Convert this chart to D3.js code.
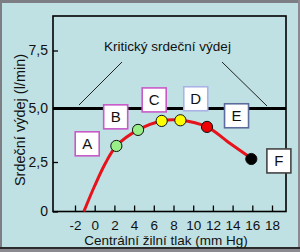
<!DOCTYPE html>
<html><head><meta charset="utf-8">
<script src="https://cdn.jsdelivr.net/npm/d3@7"></script>
<style>
html,body{margin:0;padding:0;background:#bfe1e3;}
svg{display:block;font-family:"Liberation Sans",Arial,sans-serif;}
</style></head>
<body><svg id="c" width="300" height="252"></svg>
<script>
// ---- data ----
const xTicks = [-2, 0, 2, 4, 6, 8, 10, 12, 14, 16, 18];
const yTicks = [0, 2.5, 5, 7.5];
const yTickLabels = ["0", "2,5", "5,0", "7,5"];
const criticalOutput = 5.0;
const curvePressure = [-1.1, 0, 1.1, 2.2, 4.4, 6.8, 8.7, 11.4, 13.5, 16];
const curveOutput   = [0, 1.3, 2.45, 3.25, 4.0, 4.42, 4.45, 4.14, 3.45, 2.64];
const pointPressure = [2.2, 4.4, 6.8, 8.7, 11.4, 15.9];
const pointOutput   = [3.25, 4.0, 4.42, 4.45, 4.14, 2.64];
const pointColor    = ["#99ee88", "#99ee88", "#ffff00", "#ffff00", "#ee0000", "#000000"];
const boxLabels   = ["A", "B", "C", "D", "E", "F"];
const boxPressure = [-0.76, 2.13, 6.04, 10.26, 14.4, 18.7];
const boxOutput   = [3.35, 4.61, 5.37, 5.42, 4.66, 2.55];
const boxStroke   = ["#c85ac8", "#c85ac8", "#c85ac8", "#aab2e6", "#5c6c9c", "#444444"];
const title = "Kritický srdeční výdej";
const xTitle = "Centrální žilní tlak (mm Hg)";
const yTitle = "Srdeční výdej (l/min)";

// ---- layout ----
const svg = d3.select("#c");
const L = 53, R = 286, T = 16, B = 211.5;
const x = d3.scaleLinear().domain([-2, 18]).range([75, 272]);
const y = d3.scaleLinear().domain([0, 2.5, 5, 7.5]).range([211.5, 162, 108.5, 50.5]);

// outer frame
svg.append("rect").attr("x",0).attr("y",0).attr("width",300).attr("height",252).attr("fill","#bfe1e3");
svg.append("rect").attr("x",0).attr("y",0).attr("width",300).attr("height",3).attr("fill","#7d7d84");
svg.append("rect").attr("x",0).attr("y",0).attr("width",2).attr("height",252).attr("fill","#7d7d84");
svg.append("rect").attr("x",298).attr("y",0).attr("width",2).attr("height",252).attr("fill","#8a8a90");
svg.append("rect").attr("x",0).attr("y",247).attr("width",300).attr("height",2).attr("fill","#2a2a2a");
svg.append("rect").attr("x",0).attr("y",249).attr("width",300).attr("height",3).attr("fill","#8a8a90");

// plot frame
svg.append("rect").attr("x",L).attr("y",T).attr("width",R-L).attr("height",B-T)
  .attr("fill","none").attr("stroke","#000").attr("stroke-width",1.6);

// axes
const xAxis = d3.axisBottom(x).tickValues(xTicks).tickSize(-6).tickPadding(9).tickFormat(d => String(d));
const gx = svg.append("g").attr("transform",`translate(0,${B})`).call(xAxis);
gx.select(".domain").remove();
gx.selectAll("line").attr("stroke","#000").attr("stroke-width",1.3);
gx.selectAll("text").attr("font-size",13.5).attr("fill","#111").attr("font-family","Liberation Sans, Arial, sans-serif");

const yAxis = d3.axisLeft(y).tickValues(yTicks).tickSize(-5).tickPadding(5).tickFormat((d,i)=>yTickLabels[i]);
const gy = svg.append("g").attr("transform",`translate(${L},0)`).call(yAxis);
gy.select(".domain").remove();
gy.selectAll("line").attr("stroke","#000").attr("stroke-width",1.3);
gy.selectAll("text").attr("font-size",14).attr("fill","#111").attr("font-family","Liberation Sans, Arial, sans-serif");

// axis titles
svg.append("text").attr("x",166).attr("y",245).attr("text-anchor","middle")
  .attr("font-size",13.5).attr("fill","#111").text(xTitle);
svg.append("text").attr("transform","translate(25,120) rotate(-90)").attr("text-anchor","middle")
  .attr("font-size",14.5).attr("fill","#111").text(yTitle);

// critical line
svg.append("line").attr("x1",L).attr("x2",R).attr("y1",y(criticalOutput)).attr("y2",y(criticalOutput))
  .attr("stroke","#000").attr("stroke-width",3);
svg.append("text").attr("x",167.5).attr("y",51).attr("text-anchor","middle")
  .attr("font-size",13.5).attr("fill","#111").text(title);
svg.append("line").attr("x1",122).attr("y1",62).attr("x2",79).attr("y2",105).attr("stroke","#222").attr("stroke-width",1);
svg.append("line").attr("x1",222).attr("y1",62).attr("x2",267).attr("y2",106).attr("stroke","#222").attr("stroke-width",1);

// curve
const curve = curvePressure.map((p,i)=>[p, curveOutput[i]]);
svg.append("path").datum(curve)
  .attr("d", d3.line().x(d=>x(d[0])).y(d=>y(d[1])).curve(d3.curveCatmullRom.alpha(0.5)))
  .attr("fill","none").attr("stroke","#e8121a").attr("stroke-width",3);

// points
svg.selectAll("circle.pt").data(pointPressure).join("circle").attr("class","pt")
  .attr("cx",(d)=>x(d)).attr("cy",(d,i)=>y(pointOutput[i])).attr("r",5.6)
  .attr("fill",(d,i)=>pointColor[i]).attr("stroke","#111").attr("stroke-width",1);

// label boxes
const g = svg.selectAll("g.box").data(boxLabels).join("g").attr("class","box")
  .attr("transform",(d,i)=>`translate(${x(boxPressure[i])},${y(boxOutput[i])})`);
g.append("rect").attr("x",-12).attr("y",-12).attr("width",24).attr("height",24)
  .attr("fill","#fff").attr("stroke",(d,i)=>boxStroke[i]).attr("stroke-width",1.6);
g.append("text").attr("text-anchor","middle").attr("y",5.5).attr("font-size",15).attr("fill","#111").text(d=>d);
</script></body></html>
